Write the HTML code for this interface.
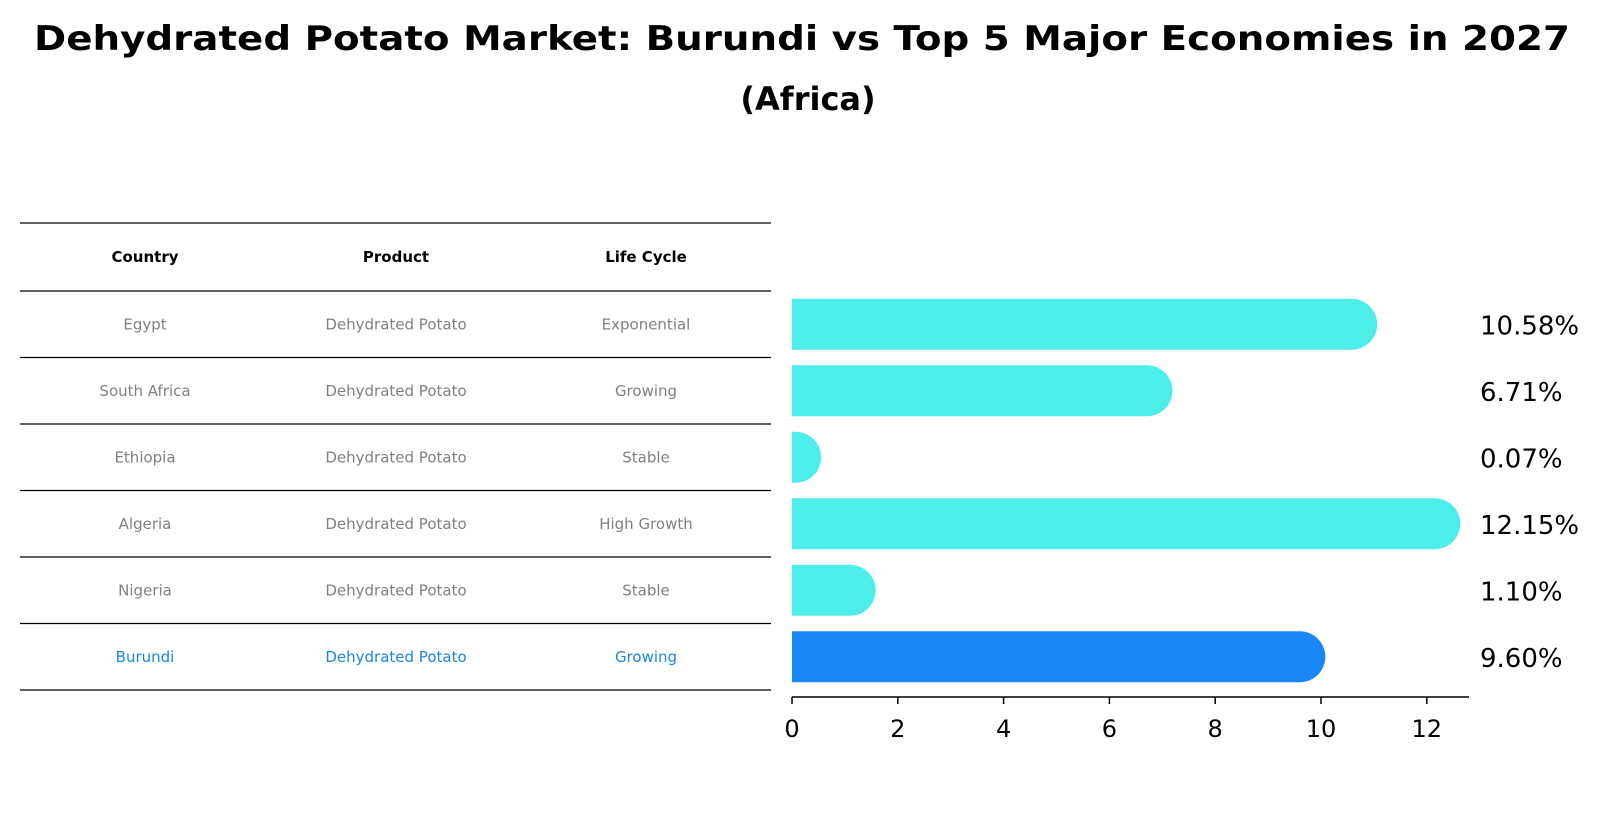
<!DOCTYPE html>
<html><head><meta charset="utf-8"><style>
body{margin:0;background:#fff;}
svg{display:block;font-family:"DejaVu Sans","Liberation Sans",sans-serif;}
</style></head><body>
<svg id="chart" width="1604" height="823" viewBox="0 0 1604 823">
<text x="802" y="50" text-anchor="middle" font-size="34" font-weight="bold" textLength="1536" lengthAdjust="spacingAndGlyphs">Dehydrated Potato Market: Burundi vs Top 5 Major Economies in 2027</text>
<text x="808" y="110" text-anchor="middle" font-size="32" font-weight="bold">(Africa)</text>
<g id="table"></g>
<g id="bars"></g>
<g id="axis"></g>
</svg>
<script>
const countries = ["Egypt","South Africa","Ethiopia","Algeria","Nigeria","Burundi"];
const products = ["Dehydrated Potato","Dehydrated Potato","Dehydrated Potato","Dehydrated Potato","Dehydrated Potato","Dehydrated Potato"];
const lifeCycles = ["Exponential","Growing","Stable","High Growth","Stable","Growing"];
const values = [10.58, 6.71, 0.07, 12.15, 1.10, 9.60];
const valueLabels = ["10.58%","6.71%","0.07%","12.15%","1.10%","9.60%"];
const ticks = [0,2,4,6,8,10,12];

const NS = "http://www.w3.org/2000/svg";
function mk(tag, attrs, parent){const e=document.createElementNS(NS,tag);for(const k in attrs)e.setAttribute(k,attrs[k]);parent.appendChild(e);return e;}
const x0=792, unit=52.9;
const xScale=v=>x0+v*unit;
const rowTop=291, rowH=66.5;
const yCenter=i=>rowTop+rowH*i+rowH/2;

// table
const tg=document.getElementById('table');
const colX=[145,396,646];
const headers=["Country","Product","Life Cycle"];
const lineYs=[223];
for(let i=0;i<=countries.length;i++) lineYs.push(rowTop+rowH*i);
lineYs.forEach((y,i)=>{
  const l=mk('line',{x1:20,x2:771,y1:y,y2:y,stroke:'#000','stroke-width':1.2},tg);
  
  
});
headers.forEach((h,j)=>{
  const t=mk('text',{x:colX[j],y:262,'text-anchor':'middle','font-size':15,'font-weight':'bold',fill:'#000'},tg);
  t.textContent=h;
  
  
});
countries.forEach((c,i)=>{
  const col = i===countries.length-1 ? '#1a86e0' : '#808080';
  [c,products[i],lifeCycles[i]].forEach((v,j)=>{
    const t=mk('text',{x:colX[j],y:yCenter(i)+5,'text-anchor':'middle','font-size':15,fill:col},tg);
    t.textContent=v;
    
    
  });
});

// bars
const bg=document.getElementById('bars');
const bh=51, r=25.5;
values.forEach((v,i)=>{
  const yc=yCenter(i), xe=xScale(v);
  const color = i===values.length-1 ? '#1a86f5' : '#4deee9';
  let d;
  if(v*unit<1){ d=`M${x0},${yc-bh/2}H${x0+4}V${yc+bh/2}H${x0}Z`; }
  else d=`M${x0},${yc-bh/2}H${xe}A${r},${r} 0 0 1 ${xe},${yc+bh/2}H${x0}Z`;
  const p=mk('path',{d:d,fill:color},bg);
  
  
  const t=mk('text',{x:1480,y:yc+10,'font-size':26,fill:'#000'},bg);
  t.textContent=valueLabels[i];
  
  
});

// axis
const ag=document.getElementById('axis');
const axl=mk('line',{x1:x0,x2:1469,y1:697,y2:697,stroke:'#000','stroke-width':1.5},ag);


ticks.forEach(tv=>{
  const x=xScale(tv);
  const tk=mk('line',{x1:x,x2:x,y1:697,y2:704,stroke:'#000','stroke-width':1.5},ag);
  
  
  const t=mk('text',{x:x,y:737,'text-anchor':'middle','font-size':24,fill:'#000'},ag);
  t.textContent=String(tv);
  
  
});
</script>
</body></html>
